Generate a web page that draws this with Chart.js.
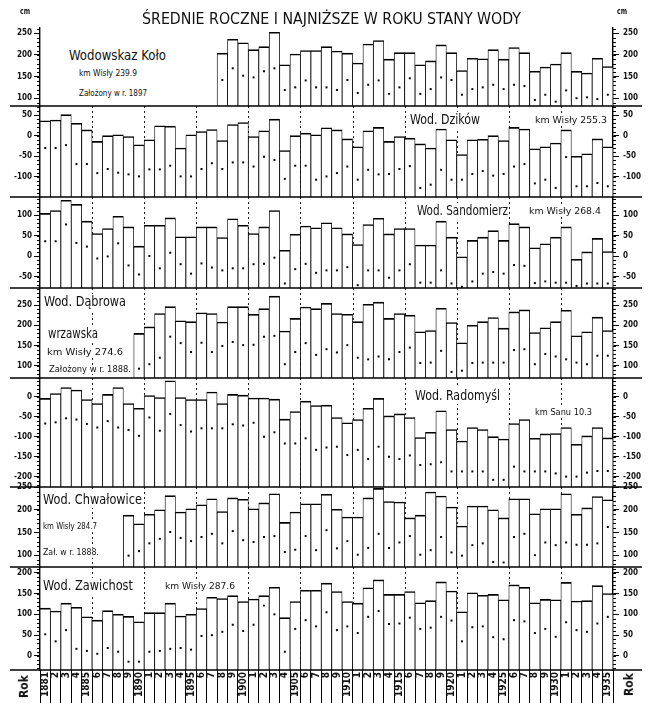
<!DOCTYPE html>
<html><head><meta charset="utf-8">
<script src="https://cdn.jsdelivr.net/npm/chart.js@4.4.1/dist/chart.umd.min.js"></script>
<style>
html,body{margin:0;padding:0;background:#fff;}
#wrap{position:relative;width:648px;height:703px;overflow:hidden;background:#fff;}
canvas{position:absolute;left:0;top:0;}
.t{position:absolute;white-space:nowrap;font-family:"DejaVu Sans Condensed","DejaVu Sans",sans-serif;color:#111;line-height:1.1;}
</style></head><body>
<div id="wrap"><canvas id="c" width="648" height="703"></canvas></div>
<script>
const years = ['1881','1882','1883','1884','1885','1886','1887','1888','1889','1890','1891','1892','1893','1894','1895','1896','1897','1898','1899','1900','1901','1902','1903','1904','1905','1906','1907','1908','1909','1910','1911','1912','1913','1914','1915','1916','1917','1918','1919','1920','1921','1922','1923','1924','1925','1926','1927','1928','1929','1930','1931','1932','1933','1934','1935'];
const yearTickLabels = ['1881','2','3','4','1885','6','7','8','9','1890','1','2','3','4','1895','6','7','8','9','1900','1','2','3','4','1905','6','7','8','9','1910','1','2','3','4','1915','6','7','8','9','1920','1','2','3','4','1925','6','7','8','9','1930','1','2','3','4','1935'];

// Wodowskaz Koło (od 1898)
const koloMean = [null,null,null,null,null,null,null,null,null,null,null,null,null,null,null,null,null,
 204,236,228,212,219,252,177,202,210,210,219,209,204,181,225,233,190,205,205,177,186,223,205,164,192,191,212,190,217,205,162,172,179,205,162,158,192,173];
const koloLow = [null,null,null,null,null,null,null,null,null,null,null,null,null,null,null,null,null,
 142,169,152,148,162,169,119,125,141,125,125,119,142,112,131,141,110,125,146,110,121,148,142,108,121,125,131,121,131,128,96,108,92,118,100,102,98,108];
const koloTicks = [100,150,200,250];

// Wod. Dzików
const dzikowMean = [36,38,51,30,14,-14,0,2,-2,-22,-10,24,23,-30,2,10,15,-12,27,32,-2,12,40,-36,0,6,2,19,14,-8,-27,12,20,-14,-2,-6,-20,-30,16,-10,-46,-10,-9,0,-12,20,16,-32,-27,-18,14,-50,-44,-8,-27];
const dzikowLow = [-30,-30,-23,-69,-69,-91,-81,-90,-94,-99,-82,-82,-73,-99,-99,-81,-67,-81,-65,-65,-75,-51,-59,-105,-73,-73,-107,-99,-91,-75,-107,-83,-94,-93,-81,-74,-127,-119,-83,-107,-107,-93,-86,-97,-93,-75,-69,-116,-107,-127,-52,-123,-123,-115,-123];
const dzikowTicks = [-100,-50,0,50];

// Wod. Sandomierz
const sandomierzMean = [104,111,136,126,85,55,67,97,71,24,75,75,93,47,47,71,71,45,91,75,55,71,111,14,53,73,69,81,69,54,28,77,92,54,67,67,27,27,85,46,-2,38,46,62,38,79,71,20,30,46,71,-8,10,43,11];
const sandomierzLow = [36,36,77,32,23,-6,-1,31,-23,-45,0,-30,8,-20,-43,-18,-28,-35,-30,-30,-20,-19,-4,-67,-32,-19,-41,-35,-35,-27,-71,-35,-35,-53,-35,-20,-65,-65,-35,-67,-75,-62,-43,-39,-43,-22,-24,-66,-62,-65,-65,-73,-67,-67,-67];
const sandomierzTicks = [-50,0,50,100];

// Wod. Dąbrowa wrzawska (od 1890)
const dabrowaMean = [null,null,null,null,null,null,null,null,null,
 180,196,229,246,211,209,231,229,208,246,246,227,241,272,186,217,245,241,254,229,227,209,252,257,217,229,225,184,187,242,207,157,200,209,219,193,233,238,182,194,209,237,174,184,220,187];
const dabrowaLow = [null,null,null,null,null,null,null,null,null,
 93,104,120,172,156,134,157,134,149,159,151,152,172,174,104,134,156,127,141,133,151,120,116,123,116,134,145,107,108,137,85,88,107,108,108,108,139,141,104,129,123,116,108,104,125,125];
const dabrowaTicks = [100,150,200,250];

// Wod. Radomyśl
const radomyslMean = [-4,8,23,17,-7,-17,6,23,-17,-29,3,-2,40,-2,-7,-7,12,-17,6,4,-3,-3,-6,-56,-37,-11,-22,-21,-52,-65,-57,-29,-4,-48,-43,-52,-102,-89,-35,-82,-111,-77,-82,-100,-106,-67,-57,-104,-93,-92,-77,-119,-98,-77,-103];
const radomyslLow = [-67,-64,-54,-57,-68,-77,-61,-77,-83,-98,-52,-85,-43,-71,-87,-79,-79,-79,-69,-72,-65,-100,-89,-117,-117,-104,-133,-127,-125,-146,-133,-156,-125,-150,-156,-147,-171,-169,-164,-187,-187,-187,-187,-208,-208,-175,-187,-187,-187,-192,-200,-200,-190,-186,-186];
const radomyslTicks = [-200,-150,-100,-50,0];

// Wod. Chwałowice (od 1889)
const chwalowiceMean = [null,null,null,null,null,null,null,null,
 188,169,190,200,231,195,202,211,224,196,226,223,202,215,235,172,195,213,213,234,201,184,184,226,247,218,217,182,188,239,230,206,164,208,208,200,182,224,224,191,202,202,235,190,204,229,222];
const chwalowiceLow = [null,null,null,null,null,null,null,null,
 99,109,126,136,151,138,131,140,147,126,153,133,129,140,142,107,112,142,111,155,115,131,101,116,147,116,128,142,101,111,140,106,99,122,126,85,84,140,147,100,128,122,128,123,123,126,162];
const chwalowiceTicks = [100,150,200,250];

// Wod. Zawichost
const zawichostMean = [115,108,127,117,94,86,109,100,95,82,104,104,127,96,100,114,141,138,145,131,137,145,165,92,131,158,158,175,155,131,127,164,183,148,148,155,128,133,178,156,106,152,146,148,135,171,165,128,136,135,177,132,133,169,150];
const zawichostLow = [52,35,62,17,12,5,19,10,-14,-14,10,12,17,19,15,48,50,58,75,60,75,121,100,10,65,86,71,105,62,71,55,94,108,77,78,92,65,68,94,85,35,69,71,45,40,86,83,55,65,46,81,62,58,78,94];
const zawichostTicks = [0,50,100,150,200];

const FONT = "'DejaVu Sans Condensed','DejaVu Sans',sans-serif";

const panels = [
  {mean:koloMean, low:koloLow, ticks:koloTicks, min:82, max:262, h:78, dotted:false},
  {mean:dzikowMean, low:dzikowLow, ticks:dzikowTicks, min:-149, max:72, h:91, dotted:true},
  {mean:sandomierzMean, low:sandomierzLow, ticks:sandomierzTicks, min:-78, max:144, h:91, dotted:true},
  {mean:dabrowaMean, low:dabrowaLow, ticks:dabrowaTicks, min:70, max:292, h:90, dotted:true},
  {mean:radomyslMean, low:radomyslLow, ticks:radomyslTicks, min:-226, max:47, h:109, dotted:true},
  {mean:chwalowiceMean, low:chwalowiceLow, ticks:chwalowiceTicks, min:74, max:250, h:80, dotted:true},
  {mean:zawichostMean, low:zawichostLow, ticks:zawichostTicks, min:-34, max:214, h:103, dotted:true}
];

function yAxis(p, i, side) {
  return {
    type:'linear', position:side, stack:side, stackWeight:p.h,
    weight: side === 'left' ? (panels.length - i) : i,
    min:p.min, max:p.max,
    afterBuildTicks: s => { s.ticks = p.ticks.map(v => ({value:v})); },
    afterFit: s => { s.width = side === 'left' ? 40 : 35; },
    border:{display:true, color:'#000', width:1.4},
    grid:{drawOnChartArea:false, drawTicks:true, tickLength:side==='left'?6:6, tickColor:'#000', tickWidth:1},
    ticks:{autoSkip:false, padding:side==='left'?2:4, color:'#111', font:{family:FONT, size:8, weight:'bold'}, callback: v => String(v)}
  };
}

const scales = {
  x: {
    type:'category', labels:years, offset:true,
    grid:{offset:true, drawOnChartArea:false, drawTicks:true, tickLength:33, tickColor:'#000', tickWidth:1},
    border:{display:false},
    ticks:{autoSkip:false, minRotation:90, maxRotation:90, padding:-31, color:'#111',
      font:{family:FONT, size:10, weight:'bold'}, callback:(v,i) => yearTickLabels[i]},
    afterFit: s => { s.height = 33; }
  }
};
panels.forEach((p,i) => {
  scales['L'+i] = yAxis(p, i, 'left');
  scales['R'+i] = yAxis(p, i, 'right');
});

const datasets = [];
panels.forEach((p,i) => {
  datasets.push({type:'bar', data:p.mean, yAxisID:'L'+i, base:p.min, grouped:false,
    backgroundColor:'#fff', borderColor:'#000', borderWidth:{top:1.6,left:0.8,right:0.8,bottom:0},
    barPercentage:1, categoryPercentage:1, order:2});
  datasets.push({type:'line', data:p.low, yAxisID:'L'+i, showLine:false, pointStyle:'rect',
    pointRadius:1.4, pointBackgroundColor:'#000', pointBorderWidth:0, order:1});
});

const decor = {
  id:'decor',
  beforeDatasetsDraw(chart){
    const ctx = chart.ctx, xs = chart.scales.x;
    ctx.save(); ctx.strokeStyle = '#222'; ctx.lineWidth = 1; ctx.setLineDash([2,3]);
    panels.forEach((p,i) => {
      if (!p.dotted) return;
      const s = chart.scales['L'+i];
      for (let k = 5; k < years.length; k += 5) {
        const x = Math.round((xs.getPixelForValue(k-1) + xs.getPixelForValue(k)) / 2) + 0.5;
        ctx.beginPath(); ctx.moveTo(x, s.top); ctx.lineTo(x, s.bottom); ctx.stroke();
      }
    });
    ctx.restore();
  },
  afterDraw(chart){
    const ctx = chart.ctx;
    ctx.save(); ctx.strokeStyle = '#000'; ctx.setLineDash([]);
    // minor ticks every 10 cm on both axes
    ctx.lineWidth = 1;
    panels.forEach((p,i) => {
      ['L','R'].forEach(side => {
        const s = chart.scales[side+i];
        const first = Math.ceil(s.min / 10) * 10;
        for (let v = first; v <= s.max; v += 10) {
          const y = Math.round(s.getPixelForValue(v)) + 0.5;
          ctx.beginPath();
          if (side === 'L') { ctx.moveTo(s.right - 3, y); ctx.lineTo(s.right, y); }
          else { ctx.moveTo(s.left, y); ctx.lineTo(s.left + 3, y); }
          ctx.stroke();
        }
      });
    });
    // panel separators
    ctx.lineWidth = 1.6;
    panels.forEach((p,i) => {
      const s = chart.scales['L'+i];
      ctx.beginPath(); ctx.moveTo(10, s.bottom); ctx.lineTo(642, s.bottom); ctx.stroke();
    });
    ctx.restore();
  }
};

new Chart(document.getElementById('c'), {
  data:{labels:years, datasets},
  options:{
    responsive:false, animation:false, devicePixelRatio:1,
    layout:{padding:{top:28,left:0,right:0,bottom:0}, autoPadding:false},
    plugins:{legend:{display:false}, tooltip:{enabled:false}, title:{display:false}},
    scales
  },
  plugins:[decor]
});

const wrap = document.getElementById('wrap');
function addText(txt, x, y, w, size, opts) {
  opts = opts || {};
  const el = document.createElement('div');
  el.className = 't';
  el.textContent = txt;
  el.style.fontSize = size + 'px';
  if (opts.bold) el.style.fontWeight = 'bold';
  if (opts.bg) { el.style.background = '#fff'; }
  wrap.appendChild(el);
  const r = el.getBoundingClientRect();
  const sx = w / r.width;
  el.style.left = x + 'px';
  el.style.top = (y - r.height / 2) + 'px';
  el.style.transformOrigin = '0 50%';
  el.style.transform = 'scaleX(' + sx + ')';
  return el;
}
function addRot(txt, cx, cy, size) {
  const el = document.createElement('div');
  el.className = 't';
  el.textContent = txt;
  el.style.fontSize = size + 'px';
  el.style.fontWeight = 'bold';
  wrap.appendChild(el);
  const r = el.getBoundingClientRect();
  el.style.left = (cx - r.width / 2) + 'px';
  el.style.top = (cy - r.height / 2) + 'px';
  el.style.transform = 'rotate(-90deg)';
}
// white cover for the empty part of the Koło panel
const cover = document.createElement('div');
cover.style.cssText = 'position:absolute;left:41px;top:29px;width:175px;height:76px;background:#fff;';
wrap.appendChild(cover);

addText('ŚREDNIE ROCZNE I NAJNIŻSZE W ROKU STANY WODY', 142, 19, 379, 15);
addText('cm', 20, 12, 10, 8, {bold:true});
addText('cm', 617, 12, 10, 8, {bold:true});

addText('Wodowskaz Koło', 69, 56, 97, 14);
addText('km Wisły 239.9', 79, 74, 58, 9);
addText('Założony w r. 1897', 79, 94, 68, 9);

addText('Wod. Dzików', 410, 120, 70, 14, {bg:true});
addText('km Wisły 255.3', 535, 121, 72, 9, {bg:true});

addText('Wod. Sandomierz', 417, 211, 91, 14, {bg:true});
addText('km Wisły 268.4', 529, 212, 72, 9, {bg:true});

addText('Wod. Dąbrowa', 44, 302, 82, 14, {bg:true});
addText('wrzawska', 48, 334, 50, 14, {bg:true});
addText('km Wisły 274.6', 47, 353, 76, 9, {bg:true});
addText('Założony w r. 1888.', 49, 370, 82, 8, {bg:true});

addText('Wod. Radomyśl', 415, 396, 85, 14, {bg:true});
addText('km Sanu 10.3', 535, 413, 57, 9, {bg:true});

addText('Wod. Chwałowice', 43, 500, 99, 14, {bg:true});
addText('km Wisły 284.7', 43, 527, 54, 9, {bg:true});
addText('Zał. w r. 1888.', 43, 553, 56, 9, {bg:true});

addText('Wod. Zawichost', 43, 586, 90, 14, {bg:true});
addText('km Wisły 287.6', 165, 587, 70, 9, {bg:true});

addRot('Rok', 24, 687, 12);
addRot('Rok', 629, 685, 12);
</script>
</body></html>
